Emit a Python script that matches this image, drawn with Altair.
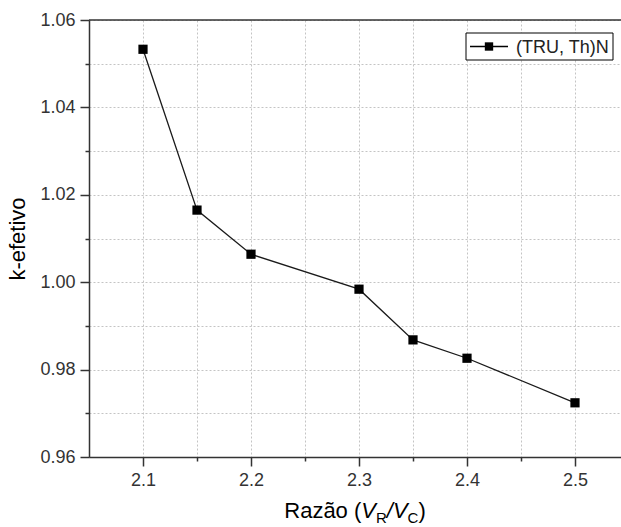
import altair as alt
import pandas as pd

# ---- data ----
razao = [2.10, 2.15, 2.20, 2.30, 2.35, 2.40, 2.50]
k_efetivo = [1.0533, 1.0165, 1.0064, 0.9984, 0.9868, 0.9826, 0.9724]
series_name = "(TRU, Th)N"

x_ticks_all = [2.10, 2.15, 2.20, 2.25, 2.30, 2.35, 2.40, 2.45, 2.50]
y_ticks_all = [0.96, 0.97, 0.98, 0.99, 1.00, 1.01, 1.02, 1.03, 1.04, 1.05, 1.06]

df = pd.DataFrame({"x": razao, "y": k_efetivo, "serie": [series_name] * len(razao)})
one = pd.DataFrame({"k": [0]})

W, H = 532, 437
FONT = "Liberation Sans"
AX = "#333333"
GRID = "#c4c4c4"

major_x = "abs(datum.value*10 - round(datum.value*10)) < 0.001"
major_y = "abs(datum.value*50 - round(datum.value*50)) < 0.001"

xscale = alt.Scale(domain=[2.05, 2.5426], nice=False, zero=False)
yscale = alt.Scale(domain=[0.96, 1.06], nice=False, zero=False)

x_enc = alt.X(
    "x:Q", scale=xscale,
    axis=alt.Axis(
        values=x_ticks_all, title=None, orient="bottom",
        labelExpr=f"({major_x}) ? format(datum.value, '.1f') : ''",
        tickSize={"condition": {"test": major_x, "value": 9}, "value": 4},
        grid=True, gridDash=[2, 2], gridColor=GRID, gridWidth=1,
        labelPadding=5,
    ),
)
y_enc = alt.Y(
    "y:Q", scale=yscale,
    axis=alt.Axis(
        values=y_ticks_all, title="k-efetivo", orient="left",
        labelExpr=f"({major_y}) ? format(datum.value, '.2f') : ''",
        tickSize={"condition": {"test": major_y, "value": 9}, "value": 4},
        grid=True, gridDash=[2, 2], gridColor=GRID, gridWidth=1,
        titlePadding=10, labelPadding=5,
    ),
)

line = alt.Chart(df).mark_line(color="#1a1a1a", strokeWidth=1.3).encode(x=x_enc, y=y_enc)
points = alt.Chart(df).mark_square(size=85, opacity=1, color="black").encode(x="x:Q", y="y:Q")

top_border = alt.Chart(one).mark_rule(color=AX, strokeWidth=1.5).encode(
    x=alt.value(0), x2=alt.value(W), y=alt.value(0)
)

# ---- legend box (line - square - line, then label) ----
LX, LY, LW, LH = 377, 13, 147, 27
leg_box = alt.Chart(one).mark_rect(fill="white", stroke="black", strokeWidth=1).encode(
    x=alt.value(LX), x2=alt.value(LX + LW), y=alt.value(LY), y2=alt.value(LY + LH)
)
leg_line = alt.Chart(one).mark_rule(color="black", strokeWidth=1.3).encode(
    x=alt.value(LX + 4), x2=alt.value(LX + 42), y=alt.value(LY + LH / 2)
)
leg_sq = alt.Chart(one).mark_square(size=70, opacity=1, color="black").encode(
    x=alt.value(LX + 23), y=alt.value(LY + LH / 2)
)
leg_txt = alt.Chart(pd.DataFrame({"serie": [series_name]})).mark_text(
    font=FONT, fontSize=18, color="#222222", align="left", baseline="middle"
).encode(x=alt.value(LX + 50), y=alt.value(LY + LH / 2 + 1), text="serie:N")

# ---- x-axis title with subscripts, built from text pieces ----
pieces = [
    ("Razão (", 22, "normal", 0),
    ("V", 22, "italic", 0),
    ("R", 15, "normal", 5),
    ("/", 22, "italic", 0),
    ("V", 22, "italic", 0),
    ("C", 15, "normal", 5),
    (")", 22, "normal", 0),
]
em = {"Razão (": 3.501, "V": 0.667, "R": 0.722, "/": 0.278, "C": 0.722, ")": 0.333}
widths = [em[t] * s for t, s, _, _ in pieces]
total = sum(widths)
x0 = W / 2 - total / 2
base_y = 498
title_layers = []
cur = x0
for (t, s, st, dy), w in zip(pieces, widths):
    title_layers.append(
        alt.Chart(one).mark_text(
            text=t, font=FONT, fontSize=s, fontStyle=st, color="black",
            align="left", baseline="alphabetic",
        ).encode(x=alt.value(cur), y=alt.value(base_y + dy))
    )
    cur += w

chart = alt.layer(
    line, points, top_border, leg_box, leg_line, leg_sq, leg_txt, *title_layers
).properties(
    width=W, height=H,
    padding={"left": 89, "top": 20, "right": 0, "bottom": 70},
    autosize=alt.AutoSizeParams(type="none"),
).configure_view(stroke=None).configure_axis(
    domainColor=AX, domainWidth=1.5, tickColor=AX, tickWidth=1.5,
    labelFont=FONT, labelFontSize=18, labelColor=AX,
    titleFont=FONT, titleFontSize=22, titleFontWeight="normal", titleColor="black",
)

chart.save("out.html", embed_options={"renderer": "svg", "actions": False})
